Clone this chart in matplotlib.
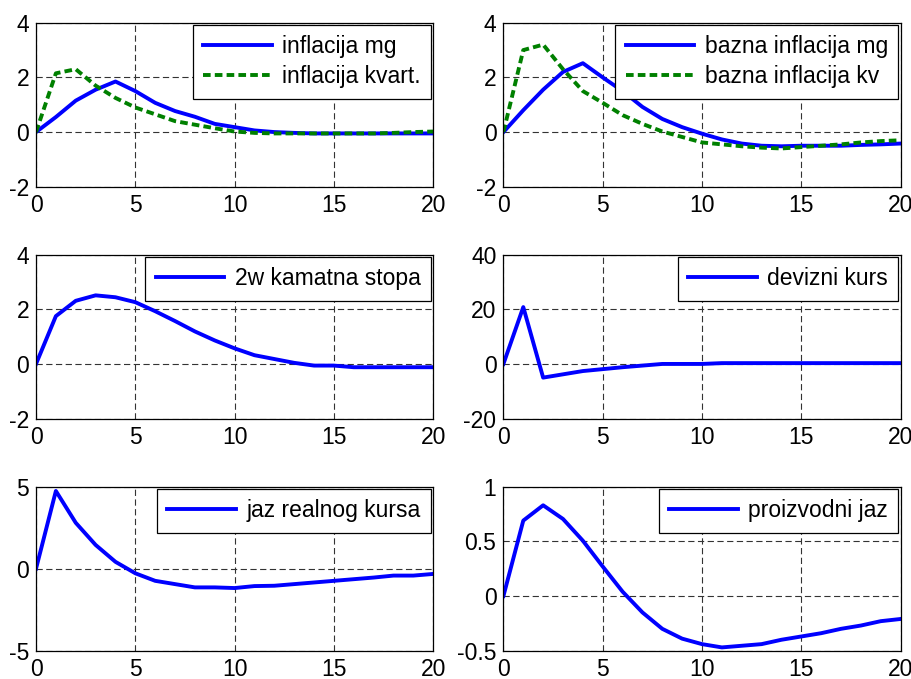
import numpy as np
import matplotlib
matplotlib.use("Agg")
import matplotlib.pyplot as plt

plt.rcParams['font.family'] = ['Liberation Sans', 'DejaVu Sans']
plt.rcParams['font.size'] = 16.5
plt.rcParams['axes.unicode_minus'] = False
plt.rcParams['lines.scale_dashes'] = False

t = np.arange(21)

# impulse responses
infl_mg = [0, 0.55, 1.15, 1.55, 1.85, 1.5, 1.07, 0.77, 0.56, 0.3, 0.18, 0.06, 0.0,
           -0.03, -0.05, -0.05, -0.05, -0.05, -0.05, -0.05, -0.05]
infl_kv = [0, 2.15, 2.3, 1.7, 1.25, 0.9, 0.65, 0.4, 0.27, 0.14, 0.02, -0.03, -0.05,
           -0.05, -0.05, -0.05, -0.05, -0.05, -0.03, 0.0, 0.02]
bazna_mg = [0, 0.8, 1.55, 2.2, 2.52, 2.0, 1.5, 0.92, 0.48, 0.18, -0.06, -0.27, -0.42,
            -0.5, -0.52, -0.5, -0.5, -0.5, -0.47, -0.45, -0.42]
bazna_kv = [0, 3.0, 3.2, 2.3, 1.5, 1.07, 0.62, 0.3, 0.02, -0.18, -0.38, -0.45, -0.52,
            -0.57, -0.6, -0.55, -0.5, -0.45, -0.38, -0.33, -0.3]
kamata = [0, 1.75, 2.31, 2.51, 2.44, 2.26, 1.93, 1.57, 1.19, 0.86, 0.57, 0.32, 0.18,
          0.04, -0.06, -0.06, -0.12, -0.12, -0.12, -0.12, -0.12]
kurs = [0, 20.8, -5.0, -3.8, -2.6, -1.9, -1.2, -0.6, 0, 0, 0, 0.3, 0.3,
        0.3, 0.3, 0.3, 0.3, 0.3, 0.3, 0.3, 0.3]
realni = [0, 4.74, 2.8, 1.45, 0.42, -0.28, -0.74, -0.94, -1.14, -1.14, -1.18, -1.06, -1.04,
          -0.94, -0.84, -0.74, -0.64, -0.54, -0.42, -0.42, -0.32]
jaz = [0, 0.69, 0.83, 0.705, 0.506, 0.27, 0.04, -0.15, -0.3, -0.39, -0.44, -0.47, -0.455,
       -0.44, -0.40, -0.37, -0.34, -0.30, -0.27, -0.23, -0.21]

panels = [
    ([(infl_mg, 'inflacija mg'), (infl_kv, 'inflacija kvart.')], [-2, 0, 2, 4], ['-2', '0', '2', '4']),
    ([(bazna_mg, 'bazna inflacija mg'), (bazna_kv, 'bazna inflacija kv')], [-2, 0, 2, 4], ['-2', '0', '2', '4']),
    ([(kamata, '2w kamatna stopa')], [-2, 0, 2, 4], ['-2', '0', '2', '4']),
    ([(kurs, 'devizni kurs')], [-20, 0, 20, 40], ['-20', '0', '20', '40']),
    ([(realni, 'jaz realnog kursa')], [-5, 0, 5], ['-5', '0', '5']),
    ([(jaz, 'proizvodni jaz')], [-0.5, 0, 0.5, 1], ['-0.5', '0', '0.5', '1']),
]

fig = plt.figure(figsize=(9.12, 6.79), dpi=100)
lefts = [0.0395, 0.552]
bottoms = [0.725, 0.3835, 0.0417]
w, h = 0.4355, 0.2415

for i, (series, yt, ytl) in enumerate(panels):
    ax = fig.add_axes([lefts[i % 2], bottoms[i // 2], w, h])
    for j, (y, lab) in enumerate(series):
        if j == 0:
            ax.plot(t, y, color='#0000ff', lw=2.8, label=lab)
        else:
            ax.plot(t, y, color='#008000', lw=2.8, ls=(0, (5.5, 3.0)), label=lab)
    ax.set_xlim(0, 20)
    ax.set_ylim(yt[0], yt[-1])
    ax.set_xticks([0, 5, 10, 15, 20])
    ax.set_yticks(yt)
    ax.set_yticklabels(ytl)
    ax.tick_params(direction='in', length=0, pad=5)
    ax.tick_params(axis='x', pad=5)
    ax.grid(True, color='#333333', lw=0.8, ls=(0, (4.5, 2.5)))
    for s in ax.spines.values():
        s.set_linewidth(0.9)
    leg = ax.legend(loc='upper right', fancybox=False, edgecolor='black', framealpha=1,
                    borderaxespad=0.1, handlelength=3.0, handletextpad=0.45,
                    borderpad=0.45, labelspacing=0.3)
    leg.get_frame().set_linewidth(0.9)

fig.savefig('out.png', dpi=100)
